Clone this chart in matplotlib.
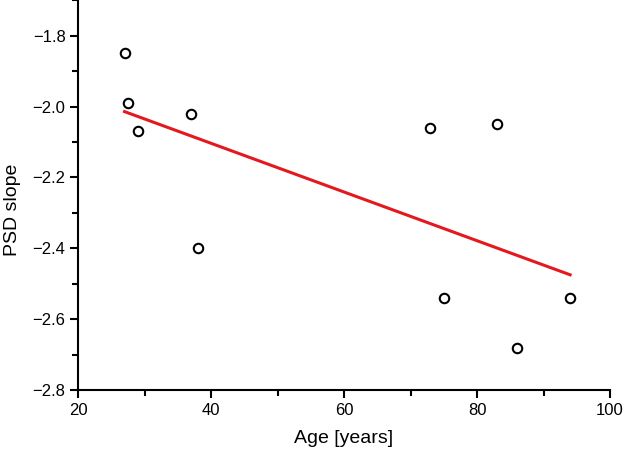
import numpy as np
import matplotlib
matplotlib.use("Agg")
import matplotlib.pyplot as plt
from matplotlib.ticker import MultipleLocator

# values
age = [27, 27.5, 29, 37, 38, 73, 75, 83, 86, 94]
psd_slope = [-1.85, -1.99, -2.07, -2.02, -2.40, -2.06, -2.54, -2.05, -2.68, -2.54]

plt.rcParams['font.family'] = ['Liberation Sans', 'DejaVu Sans']

fig = plt.figure(figsize=(6.24, 4.5), dpi=100)
ax = fig.add_axes([0.125, 0.1333, 0.8526, 0.8667])

# linear regression line across the data range
coef = np.polyfit(age, psd_slope, 1)
xfit = np.array([min(age), max(age)])
ax.plot(xfit, np.polyval(coef, xfit), color='#e3191f', linewidth=2.2, zorder=2)

ax.plot(age, psd_slope, 'o', markersize=6.8, markerfacecolor='white',
        markeredgecolor='black', markeredgewidth=1.5, zorder=3)

ax.set_xlim(20, 100)
ax.set_ylim(-2.8, -1.699)
ax.xaxis.set_major_locator(MultipleLocator(20))
ax.xaxis.set_minor_locator(MultipleLocator(10))
ax.yaxis.set_major_locator(MultipleLocator(0.2))
ax.yaxis.set_minor_locator(MultipleLocator(0.1))
ax.yaxis.set_major_formatter(plt.FuncFormatter(lambda v, p: f"{v:.1f}".replace('-', '\u2212')))

for side in ['top', 'right']:
    ax.spines[side].set_visible(False)
for side in ['left', 'bottom']:
    ax.spines[side].set_linewidth(1.5)

ax.tick_params(which='major', direction='out', length=6, width=1.5, labelsize=12, pad=3)
ax.tick_params(which='minor', direction='out', length=4, width=1.5)

ax.set_xlabel("Age [years]", fontsize=14)
ax.set_ylabel("PSD slope", fontsize=14)
ax.xaxis.set_label_coords(0.5, -0.102)
ax.yaxis.set_label_coords(-0.108, 0.462)

fig.savefig("out.png", dpi=100)
